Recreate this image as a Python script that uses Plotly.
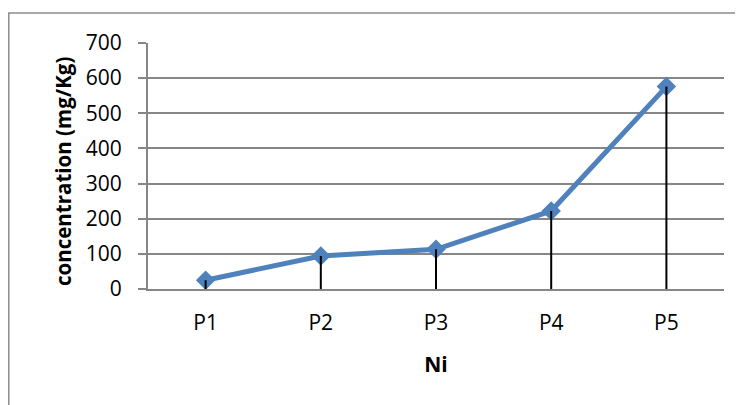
import plotly.graph_objects as go

categories = ["P1", "P2", "P3", "P4", "P5"]
ni_values = [25, 94, 113, 222, 576]
y_ticks = [0, 100, 200, 300, 400, 500, 600, 700]

BLUE = "#4F81BD"
GRID = "#868686"
FONT = "Open Sans"

# page has 8px body margin; figure is offset by 8px
OFF = 8
PL, PR, PT, PB = 148, 724, 43, 289  # plot area in page px

drop_x, drop_y = [], []
for c, v in zip(categories, ni_values):
    drop_x += [c, c, None]
    drop_y += [v, 0, None]

fig = go.Figure()
fig.add_trace(go.Scatter(
    x=categories, y=ni_values, mode="lines+markers",
    line=dict(color=BLUE, width=5),
    marker=dict(symbol="diamond", size=15, color=BLUE),
    showlegend=False, hoverinfo="skip",
))
fig.add_trace(go.Scatter(
    x=drop_x, y=drop_y, mode="lines",
    line=dict(color="black", width=2),
    showlegend=False, hoverinfo="skip",
))

W, H = 743 - OFF, 405 - OFF
pw, ph = PR - PL, PB - PT
fig.update_layout(
    width=W, height=H,
    margin=dict(l=PL - OFF, r=W - (PR - OFF), t=PT - OFF, b=H - (PB - OFF)),
    paper_bgcolor="white", plot_bgcolor="white",
    font=dict(family=FONT, color="black", size=21),
    xaxis=dict(
        type="category", categoryorder="array", categoryarray=categories,
        range=[-0.5, len(categories) - 0.5],
        showgrid=False, showline=True, linecolor=GRID, linewidth=2,
        ticks="", ticklabelstandoff=14,
        tickfont=dict(family=FONT, size=21),
        title=dict(text="<b>Ni</b>", font=dict(family=FONT, size=21), standoff=22),
        zeroline=False, fixedrange=True,
    ),
    yaxis=dict(
        range=[0, 700], tickvals=y_ticks,
        showgrid=True, gridcolor=GRID, gridwidth=1.5,
        showline=True, linecolor=GRID, linewidth=2,
        ticks="outside", ticklen=8, tickcolor=GRID, tickwidth=1.5,
        ticklabelstandoff=12,
        tickfont=dict(family=FONT, size=21),
        zeroline=False, fixedrange=True,
    ),
    annotations=[dict(
        text="<b>concentration (mg/Kg)</b>", textangle=-90,
        xref="paper", yref="paper",
        x=(63 - PL) / pw, y=(PB - 172) / ph,
        xanchor="center", yanchor="middle", showarrow=False,
        font=dict(family=FONT, size=20.5, color="black"),
    )],
    shapes=[dict(
        type="rect", xref="paper", yref="paper",
        x0=(8.8 - PL) / pw, x1=2, y0=-2, y1=(PB - 13) / ph,
        line=dict(color="#8C8C8C", width=1.5), fillcolor="rgba(0,0,0,0)",
        layer="below",
    )],
)

fig.write_html("out.html")
